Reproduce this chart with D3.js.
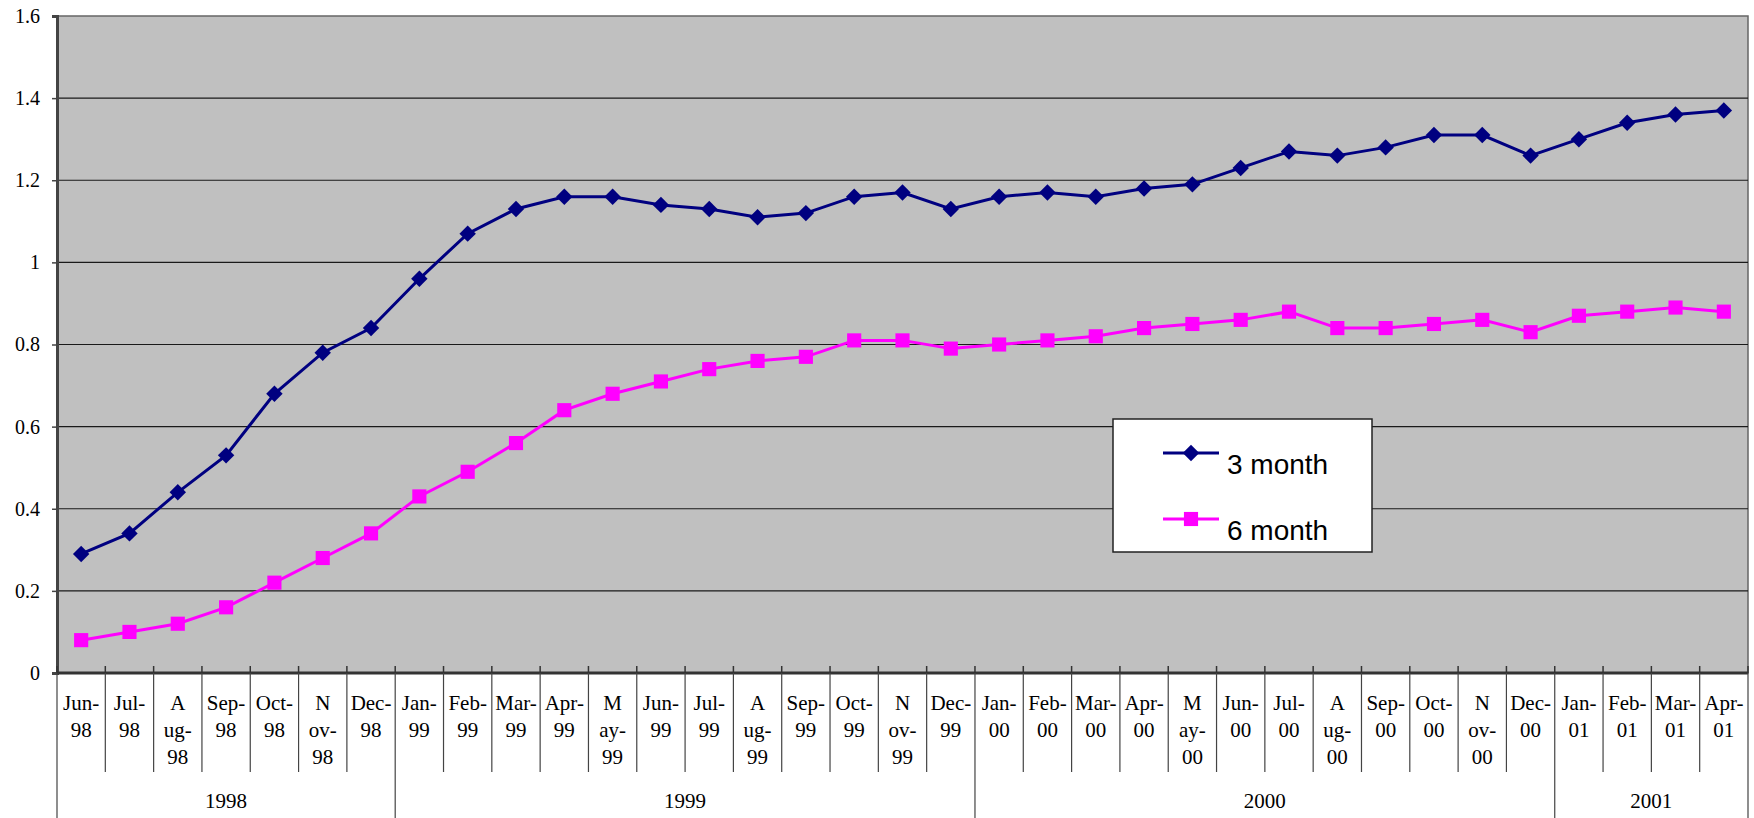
<!DOCTYPE html>
<html>
<head>
<meta charset="utf-8">
<script src="https://cdn.jsdelivr.net/npm/d3@7"></script>
<style>
  body { margin: 0; background: #fff; }
  svg text { font-family: "Liberation Serif", "Times New Roman", serif; }
</style>
</head>
<body>
<div id="chart"></div>
<script>
// Data
const months = ["Jun-98", "Jul-98", "Aug-98", "Sep-98", "Oct-98", "Nov-98", "Dec-98",
    "Jan-99", "Feb-99", "Mar-99", "Apr-99", "May-99", "Jun-99", "Jul-99", "Aug-99", "Sep-99",
    "Oct-99", "Nov-99", "Dec-99", "Jan-00", "Feb-00", "Mar-00", "Apr-00", "May-00", "Jun-00",
    "Jul-00", "Aug-00", "Sep-00", "Oct-00", "Nov-00", "Dec-00", "Jan-01", "Feb-01", "Mar-01", "Apr-01"];
const years = ["1998", "1999", "2000", "2001"];
const threeMonth = [0.29, 0.34, 0.44, 0.53, 0.68, 0.78, 0.84, 0.96, 1.07, 1.13, 1.16, 1.16,
    1.14, 1.13, 1.11, 1.12, 1.16, 1.17, 1.13, 1.16, 1.17, 1.16, 1.18, 1.19, 1.23, 1.27, 1.26,
    1.28, 1.31, 1.31, 1.26, 1.30, 1.34, 1.36, 1.37];
const sixMonth = [0.08, 0.10, 0.12, 0.16, 0.22, 0.28, 0.34, 0.43, 0.49, 0.56, 0.64, 0.68,
    0.71, 0.74, 0.76, 0.77, 0.81, 0.81, 0.79, 0.80, 0.81, 0.82, 0.84, 0.85, 0.86, 0.88, 0.84,
    0.84, 0.85, 0.86, 0.83, 0.87, 0.88, 0.89, 0.88];
const yTicks = [0, 0.2, 0.4, 0.6, 0.8, 1, 1.2, 1.4, 1.6];
// month names that wrap onto three lines in the category axis
const wrapMonths = ["Aug", "Nov", "May"];

const width = 1754, height = 818;
const plotLeft = 57, plotRight = 1748, plotTop = 16, plotBottom = 673;

const svg = d3.select("#chart").append("svg")
    .attr("width", width)
    .attr("height", height);

const x = d3.scaleBand()
    .domain(d3.range(months.length))
    .range([plotLeft, plotRight])
    .padding(0);

const y = d3.scaleLinear()
    .domain([0, 1.6])
    .range([plotBottom, plotTop]);

const cx = i => x(i) + x.bandwidth() / 2;
const edge = i => i < months.length ? x(i) : plotRight;

// Plot area
svg.append("rect")
    .attr("x", plotLeft).attr("y", plotTop)
    .attr("width", plotRight - plotLeft).attr("height", plotBottom - plotTop)
    .attr("fill", "#c0c0c0")
    .attr("stroke", "#666")
    .attr("stroke-width", 1.5);

// Gridlines
svg.append("g")
    .selectAll("line")
    .data(yTicks.filter(d => d > 0 && d < 1.6))
    .join("line")
    .attr("x1", plotLeft).attr("x2", plotRight)
    .attr("y1", d => y(d)).attr("y2", d => y(d))
    .attr("stroke", "#1a1a1a")
    .attr("stroke-width", 1.2);

// Y axis
const yAxis = svg.append("g")
    .attr("transform", `translate(${plotLeft},0)`)
    .call(d3.axisLeft(y).tickValues(yTicks).tickSize(5).tickPadding(12)
        .tickFormat(d => String(d)));
yAxis.select(".domain").attr("stroke", "#444").attr("stroke-width", 3);
yAxis.selectAll(".tick line").attr("stroke", "#444").attr("stroke-width", 1.5);
yAxis.selectAll("text")
    .attr("font-size", "20px")
    .attr("fill", "#000")
    .style("font-family", "Liberation Serif, serif");

// Category axis line + inner ticks
svg.append("line")
    .attr("x1", plotLeft).attr("x2", plotRight)
    .attr("y1", plotBottom).attr("y2", plotBottom)
    .attr("stroke", "#333")
    .attr("stroke-width", 3);

const boundaries = d3.range(months.length + 1);
svg.append("g")
    .selectAll("line")
    .data(boundaries)
    .join("line")
    .attr("x1", edge).attr("x2", edge)
    .attr("y1", plotBottom - 7).attr("y2", plotBottom)
    .attr("stroke", "#333")
    .attr("stroke-width", 1.5);

// Year groups
const yearOf = m => "20" + m.slice(-2) > "2050" ? "19" + m.slice(-2) : "20" + m.slice(-2);
const yearStart = years.map(yr => months.findIndex(m => yearOf(m) === yr));
const yearEnd = years.map((yr, k) => k < years.length - 1 ? yearStart[k + 1] : months.length);

// Month separators below axis (longer at year boundaries)
svg.append("g")
    .selectAll("line")
    .data(boundaries)
    .join("line")
    .attr("x1", edge).attr("x2", edge)
    .attr("y1", plotBottom)
    .attr("y2", i => (i === 0 || i === months.length || yearStart.includes(i)) ? height : 772)
    .attr("stroke", "#444")
    .attr("stroke-width", 1.2);

// Month labels
const labelLines = m => {
    const [mon, yr] = m.split("-");
    return wrapMonths.includes(mon) ? [mon[0], mon.slice(1) + "-", yr] : [mon + "-", yr];
};
svg.append("g")
    .selectAll("text")
    .data(months)
    .join("text")
    .attr("text-anchor", "middle")
    .attr("font-size", "21px")
    .attr("fill", "#000")
    .each(function (m, i) {
        d3.select(this).selectAll("tspan")
            .data(labelLines(m))
            .join("tspan")
            .attr("x", cx(i))
            .attr("y", (d, k) => 710 + k * 27)
            .text(d => d);
    });

// Year labels
svg.append("g")
    .selectAll("text")
    .data(years)
    .join("text")
    .attr("x", (d, k) => (edge(yearStart[k]) + edge(yearEnd[k])) / 2)
    .attr("y", 808)
    .attr("text-anchor", "middle")
    .attr("font-size", "21px")
    .attr("fill", "#000")
    .text(d => d);

// Series: diamond = square turned 45 degrees
const series = [
    { name: "3 month", values: threeMonth, color: "#000080", shape: d3.symbolSquare, size: 135, rot: 45 },
    { name: "6 month", values: sixMonth, color: "#ff00ff", shape: d3.symbolSquare, size: 200, rot: 0 }
];

const line = d3.line()
    .x((d, i) => cx(i))
    .y(d => y(d));

series.forEach(s => {
    svg.append("path")
        .datum(s.values)
        .attr("fill", "none")
        .attr("stroke", s.color)
        .attr("stroke-width", 3)
        .attr("d", line);

    svg.append("g")
        .selectAll("path")
        .data(s.values)
        .join("path")
        .attr("transform", (d, i) => `translate(${cx(i)},${y(d)}) rotate(${s.rot})`)
        .attr("d", d3.symbol().type(s.shape).size(s.size))
        .attr("fill", s.color);
});

// Legend
const legend = svg.append("g").attr("transform", "translate(1113,419)");
legend.append("rect")
    .attr("width", 259).attr("height", 133)
    .attr("fill", "#fff")
    .attr("stroke", "#222")
    .attr("stroke-width", 1.5);

series.forEach((s, k) => {
    const ly = 34 + k * 66;
    legend.append("line")
        .attr("x1", 50).attr("x2", 106)
        .attr("y1", ly).attr("y2", ly)
        .attr("stroke", s.color)
        .attr("stroke-width", 3);
    legend.append("path")
        .attr("transform", `translate(78,${ly}) rotate(${s.rot})`)
        .attr("d", d3.symbol().type(s.shape).size(s.size))
        .attr("fill", s.color);
    legend.append("text")
        .attr("x", 114)
        .attr("y", ly + 21)
        .attr("font-size", "28px")
        .style("font-family", "Liberation Sans, Arial, sans-serif")
        .attr("fill", "#000")
        .text(s.name);
});
</script>
</body>
</html>
